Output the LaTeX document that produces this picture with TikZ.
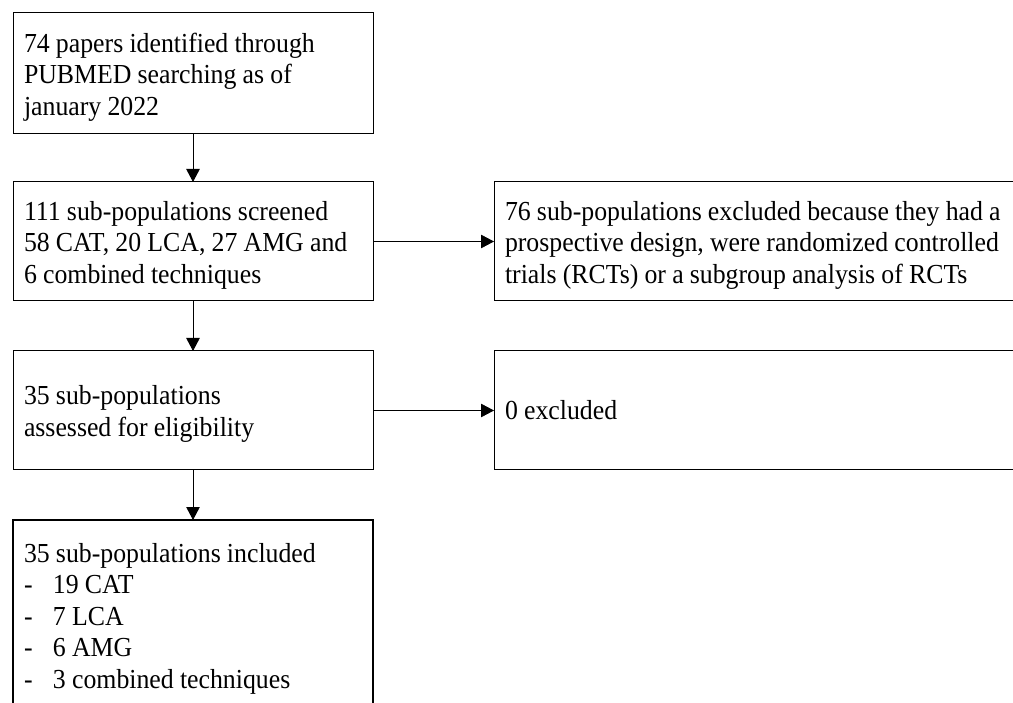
\documentclass[tikz,border=0pt]{standalone}
\usepackage{fontspec}
\setmainfont{Liberation Serif}[FakeStretch=0.938]
\usetikzlibrary{arrows.meta}
\newcommand{\tightsp}{\spaceskip=6.2pt\relax}
\newcommand{\firstln}{\tightsp\rule{0pt}{26pt}}
\newcommand{\itm}{\makebox[29pt][l]{-}}
\begin{document}
\begin{tikzpicture}[x=1pt,y=-1pt,
  box/.style={draw, line width=1pt, rectangle, anchor=north west, align=left,
    font=\fontsize{27.5}{31.5}\selectfont, inner xsep=11pt, inner ysep=0pt, outer sep=0pt},
  conn/.style={line width=0.8pt, -{Triangle[width=13.5pt,length=13pt]}}]
\useasboundingbox (0,0) rectangle (1013,703);
\node[box, text width=338pt, minimum height=121pt] (a) at (13,13)
  {\firstln 74 papers identified through\\PUBMED searching as of\\january 2022};
\node[box, text width=338pt, minimum height=119pt] (b) at (13,182)
  {\firstln 111 sub-populations screened\\58 CAT, 20 LCA, 27 AMG and\\6 combined techniques};
\node[box, text width=540pt, minimum height=119pt] (c) at (494,182)
  {\firstln 76 sub-populations excluded because they had a\\prospective design, were randomized controlled\\trials (RCTs) or a subgroup analysis of RCTs};
\node[box, text width=338pt, minimum height=119pt] (d) at (13,351)
  {\firstln 35 sub-populations\\assessed for eligibility};
\node[box, text width=540pt, minimum height=119pt] (e) at (494,351)
  {\tightsp 0 excluded};
\node[box, line width=2.5pt, text width=338pt, inner ysep=23pt] (f) at (13,520)
  {\tightsp 35 sub-populations included\\
   \itm 19 CAT\\
   \itm 7 LCA\\
   \itm 6 AMG\\
   \itm 3 combined techniques};
\draw[conn] (a.south) -- (b.north);
\draw[conn] (b.south) -- (d.north);
\draw[conn] (d.south) -- (f.north);
\draw[conn] (b.east) -- (c.west);
\draw[conn] (d.east) -- (e.west);
\end{tikzpicture}
\end{document}
